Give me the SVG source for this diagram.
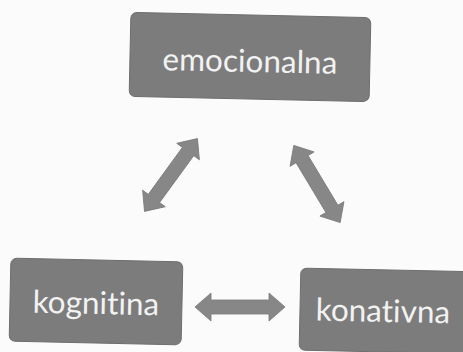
<svg xmlns="http://www.w3.org/2000/svg" width="463" height="352" viewBox="0 0 463 352">
<style>
.box{fill:#7c7c7c;stroke:#6e6e6e;stroke-width:1}
.lbl{font-family:Lato,"Open Sans","Liberation Sans",sans-serif;font-size:31.5px;fill:#f2f2f2;text-anchor:middle;font-variant-ligatures:none}
.arr{fill:#878787;stroke:#7a7a7a;stroke-width:0.8}
</style>
<defs>
<path id="dbl" d="M-45 0 L-29 -14 L-29 -7 L29 -7 L29 -14 L45 0 L29 14 L29 7 L-29 7 L-29 14 Z"/>
</defs>
<rect width="463" height="352" fill="#fbfbfb"/>
<g id="connectors">
<use href="#dbl" class="arr" transform="translate(171,175) rotate(-54)"/>
<use href="#dbl" class="arr" transform="translate(317,184) rotate(59)"/>
<use href="#dbl" class="arr" transform="translate(240,307)"/>
</g>
<g id="emocionalna" transform="rotate(1.2 250 57)">
<rect class="box" x="130" y="15" width="240" height="84" rx="6"/>
<text class="lbl" x="250" y="72">emocionalna</text>
</g>
<g id="kognitina" transform="rotate(1.2 96 302)">
<rect class="box" x="10" y="260" width="172" height="83" rx="6"/>
<text class="lbl" x="96" y="314">kognitina</text>
</g>
<g id="konativna" transform="rotate(1.2 387 310)">
<rect class="box" x="300" y="270" width="175" height="82" rx="6"/>
<text class="lbl" x="383" y="322">konativna</text>
</g>
</svg>
